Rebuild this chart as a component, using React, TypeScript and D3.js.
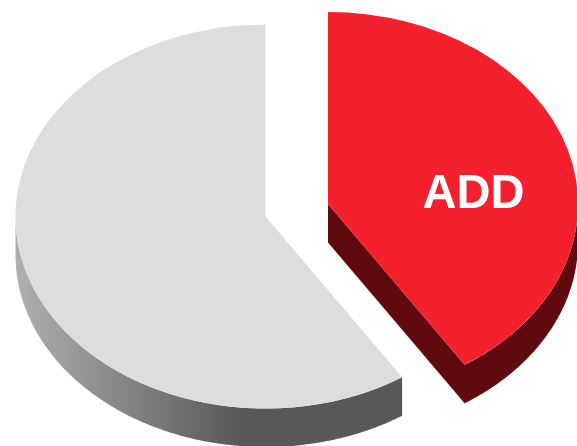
import React from "react";
import * as d3 from "d3";

const categories = ["ADD", ""];
const values = [40.8, 59.2];
const topColors = ["#f5202d", "#dddddd"];

const width = 577;
const height = 446;
const rx = 250;
const ry = 192;
const depth = 38.5;
const centers = [
    { x: 328, y: 204 },
    { x: 265.5, y: 216.5 }
];

export default function App() {
    const slices = d3.pie<number>().sort(null)(values);
    const squash = ry / rx;
    const arc = d3.arc<d3.PieArcDatum<number>>().innerRadius(0).outerRadius(rx);

    // point on the rim of the squashed circle, d3 angles (0 = up, clockwise)
    const rim = (a: number, c: { x: number; y: number }, dy = 0): [number, number] => [
        c.x + rx * Math.sin(a),
        c.y - ry * Math.cos(a) + dy
    ];
    const line = d3.line();

    // visible outer wall: the part of the rim that faces the viewer
    const wallPoints = (s: d3.PieArcDatum<number>, c: { x: number; y: number }) => {
        const a0 = Math.max(s.startAngle, Math.PI / 2);
        const a1 = Math.min(s.endAngle, (3 * Math.PI) / 2);
        const angles = d3.range(a0, a1, 0.01).concat([a1]);
        return {
            top: angles.map(a => rim(a, c)),
            bottom: angles.map(a => rim(a, c, depth)).reverse()
        };
    };

    const grey = wallPoints(slices[1], centers[1]);
    const red = wallPoints(slices[0], centers[0]);
    const redC = centers[0];

    return (
        <svg
            width={width}
            height={height}
            style={{ position: "absolute", left: 0, top: 0 }}
        >
            <defs>
                <linearGradient id="greyWall" gradientUnits="userSpaceOnUse" x1={15} x2={240} y1={0} y2={0}>
                    <stop offset="0" stopColor="#b0b0b0" />
                    <stop offset="1" stopColor="#585858" />
                </linearGradient>
            </defs>

            <path d={line([...grey.top, ...grey.bottom]) + "Z"} fill="url(#greyWall)" />
            {/* outer wall and cut face as one shape so no seam shows at the tip */}
            <path
                d={line([
                    [redC.x, redC.y],
                    [redC.x, redC.y + depth],
                    ...red.bottom,
                    ...red.top
                ]) + "Z"}
                fill="#5f0a0f"
            />

            {slices.map((s, i) => (
                <path
                    key={i}
                    d={arc(s) || ""}
                    fill={topColors[i]}
                    transform={`translate(${centers[i].x},${centers[i].y}) scale(1,${squash})`}
                />
            ))}

            <text
                x={473.5}
                y={207.5}
                textAnchor="middle"
                fontFamily="'Liberation Sans', Arial, sans-serif"
                fontWeight="bold"
                fontSize={49}
                textLength={102}
                lengthAdjust="spacingAndGlyphs"
                fill="#ffffff"
            >
                {categories[0]}
            </text>
        </svg>
    );
}
